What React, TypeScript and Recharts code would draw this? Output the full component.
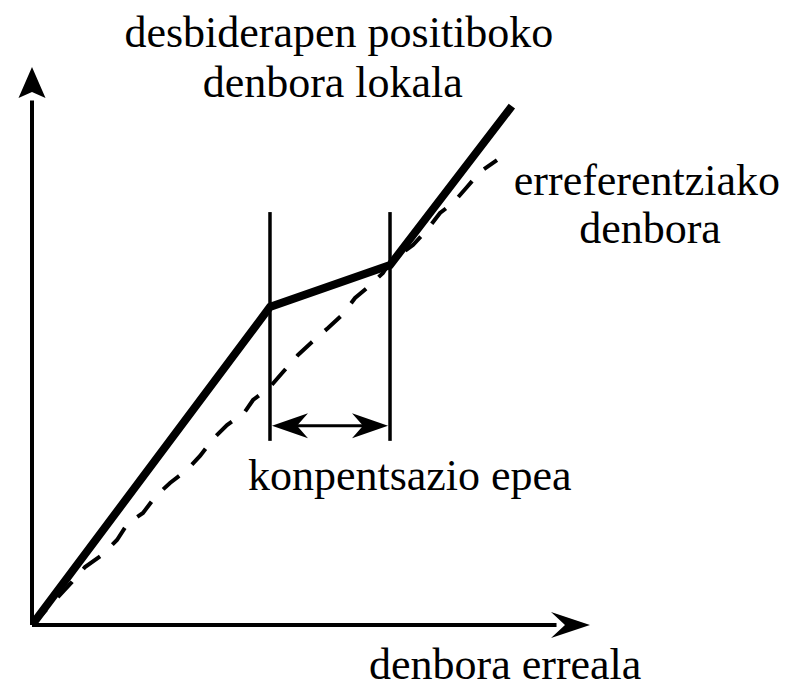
import React from 'react';
import { ComposedChart, Line, XAxis, YAxis, ReferenceLine, ReferenceDot } from 'recharts';

// Reference clock (dashed, slightly wavy) — real time vs. reference time
const refTimeX = [0, 7.17, 9.5, 12.54, 15.23, 17.2, 19.89, 22.04, 24.73, 27.78, 30.11, 32.44, 34.95, 37.99, 39.61, 42.65, 44.98, 47.67, 50.18, 53.05, 55.56, 57.89, 60.22, 62.9, 64.16, 68.28, 70.79, 73.12, 75.45, 77.96, 80.29, 83.33];
const refTimeY = [0, 7.71, 10.39, 12.54, 15.23, 18.28, 20.07, 22.94, 25.45, 27.78, 30.29, 33.33, 35.84, 37.99, 40.32, 42.65, 45.34, 48.39, 50.72, 53.23, 55.56, 58.6, 60.57, 63.08, 65.05, 68.1, 70.79, 73.84, 75.63, 78.49, 81.18, 83.33];

// Local clock with positive deviation, then compensated
const localTimeX = [0, 42.65, 64.16, 86.0];
const localTimeY = [0, 57.0, 64.5, 93.0];

// Compensation window
const windowStart = 42.65;
const windowEnd = 64.16;
const windowTop = 74;
const windowBottom = 33;
const windowArrowY = 35.7;

const AXIS_MAX = 100;

const labels = [
  { text: 'desbiderapen positiboko', x: 55.0, y: 103.6 },
  { text: 'denbora lokala', x: 53.9, y: 94.6 },
  { text: 'erreferentziako', x: 110.2, y: 77.1 },
  { text: 'denbora', x: 110.75, y: 68.5 },
  { text: 'konpentsazio epea', x: 67.7, y: 24.2 },
  { text: 'denbora erreala', x: 84.8, y: -9.6 },
];

const refData = refTimeX.map((x, i) => ({ x, y: refTimeY[i] }));
const localData = localTimeX.map((x, i) => ({ x, y: localTimeY[i] }));

const FONT = '"Liberation Serif", "Times New Roman", serif';

const arrowUp = (p: any) => (
  <path d={`M${p.cx},${p.cy} L${p.cx + 13.5},${p.cy + 31} L${p.cx},${p.cy + 25} L${p.cx - 13.5},${p.cy + 31} Z`} fill="#000" />
);
const arrowRight = (p: any) => (
  <path d={`M${p.cx},${p.cy} L${p.cx - 39},${p.cy - 13} L${p.cx - 25},${p.cy} L${p.cx - 39},${p.cy + 13} Z`} fill="#000" />
);
const arrowLeftSmall = (p: any) => (
  <path d={`M${p.cx + 2},${p.cy} L${p.cx + 38},${p.cy - 12.5} L${p.cx + 27},${p.cy} L${p.cx + 38},${p.cy + 12.5} Z`} fill="#000" />
);
const arrowRightSmall = (p: any) => (
  <path d={`M${p.cx - 2},${p.cy} L${p.cx - 38},${p.cy - 12.5} L${p.cx - 27},${p.cy} L${p.cx - 38},${p.cy + 12.5} Z`} fill="#000" />
);
const textShape = (t: string) => (p: any) => (
  <text x={p.cx} y={p.cy} textAnchor="middle" fontFamily={FONT} fontSize={44} fill="#000">
    {t}
  </text>
);

export default function App() {
  return (
    <div style={{ position: 'absolute', left: 0, top: 0, width: 787, height: 688, background: '#fff' }}>
      <ComposedChart
        width={787}
        height={688}
        margin={{ top: 67, right: 197, bottom: 63, left: 32 }}
      >
        <XAxis type="number" dataKey="x" domain={[0, AXIS_MAX]} hide allowDataOverflow />
        <YAxis type="number" dataKey="y" domain={[0, AXIS_MAX]} hide allowDataOverflow />

        {/* axes */}
        <ReferenceLine segment={[{ x: 0, y: 0 }, { x: 0, y: 94 }]} stroke="#000" strokeWidth={4} ifOverflow="visible" />
        <ReferenceLine segment={[{ x: 0, y: 0 }, { x: 94, y: 0 }]} stroke="#000" strokeWidth={4} ifOverflow="visible" />
        <ReferenceDot x={0} y={AXIS_MAX} ifOverflow="visible" shape={arrowUp} />
        <ReferenceDot x={AXIS_MAX} y={0} ifOverflow="visible" shape={arrowRight} />

        {/* compensation window */}
        <ReferenceLine segment={[{ x: windowStart, y: windowBottom }, { x: windowStart, y: windowTop }]} stroke="#000" strokeWidth={3.5} ifOverflow="visible" />
        <ReferenceLine segment={[{ x: windowEnd, y: windowBottom }, { x: windowEnd, y: windowTop }]} stroke="#000" strokeWidth={3.5} ifOverflow="visible" />
        <ReferenceLine segment={[{ x: windowStart + 2, y: windowArrowY }, { x: windowEnd - 2, y: windowArrowY }]} stroke="#000" strokeWidth={3} ifOverflow="visible" />
        <ReferenceDot x={windowStart} y={windowArrowY} ifOverflow="visible" shape={arrowLeftSmall} />
        <ReferenceDot x={windowEnd} y={windowArrowY} ifOverflow="visible" shape={arrowRightSmall} />

        <Line
          data={refData}
          dataKey="y"
          type="linear"
          stroke="#000"
          strokeWidth={4}
          strokeDasharray="21 17"
          dot={false}
          activeDot={false}
          isAnimationActive={false}
        />
        <Line
          data={localData}
          dataKey="y"
          type="linear"
          stroke="#000"
          strokeWidth={8}
          strokeLinejoin="miter"
          strokeLinecap="butt"
          dot={false}
          activeDot={false}
          isAnimationActive={false}
        />

        {labels.map((l) => (
          <ReferenceDot key={l.text} x={l.x} y={l.y} ifOverflow="visible" shape={textShape(l.text)} />
        ))}
      </ComposedChart>
    </div>
  );
}
